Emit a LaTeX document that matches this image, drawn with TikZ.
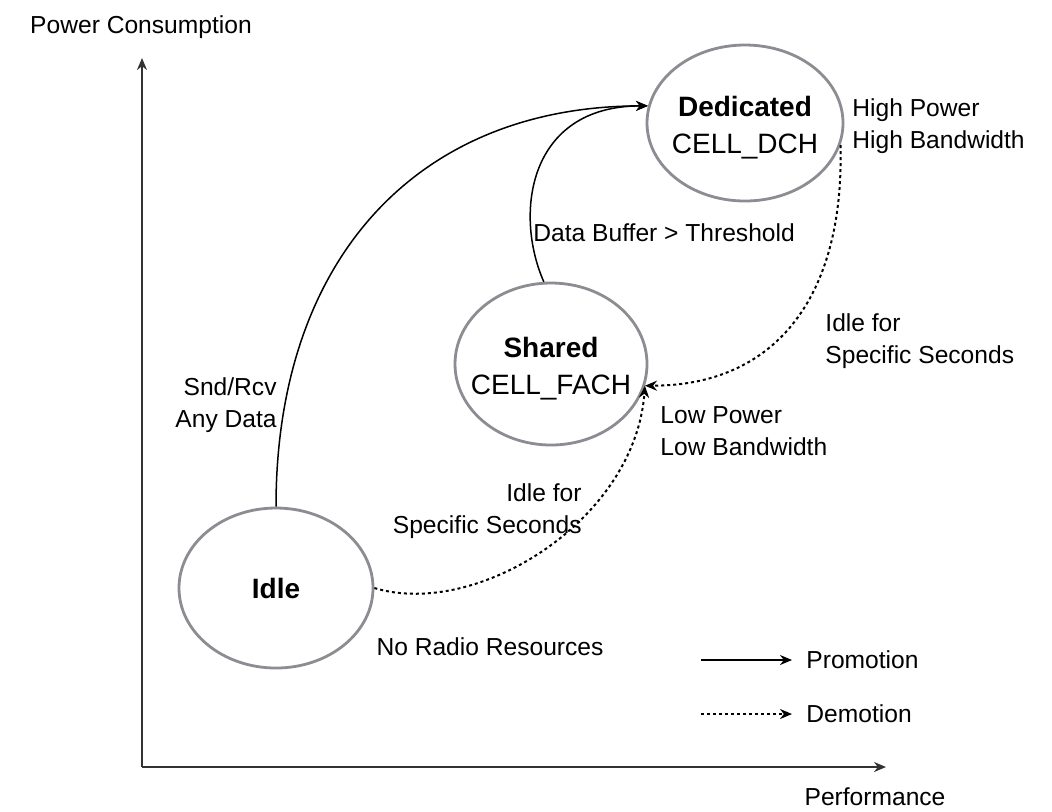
\documentclass[tikz,border=0pt]{standalone}
\usepackage{fontspec}
\setmainfont{Liberation Sans}
\usetikzlibrary{arrows.meta, positioning, shapes.geometric}
\newcommand{\stname}[2]{\makebox[0pt]{\bfseries #1}\\\makebox[0pt]{#2}}
\tikzset{
    >={Stealth[length=6pt,width=5pt]}, % small filled heads
    lbl/.style={inner sep=0pt, font=\fontsize{12.3}{16}\selectfont}, % plain text labels
    rrc/.style={ellipse, draw={rgb,255:red,140;green,140;blue,146}, line width=1.4pt, inner sep=0pt, align=center, font=\fontsize{14}{18.5}\selectfont}, % one RRC state
    twoline/.style={text height=33pt}, % pushes the two text lines a bit down
    promote/.style={->, line width=0.75pt}, % solid edge
    demote/.style={->, line width=1pt, dash pattern=on 1.5pt off 1.5pt}, % dotted edge
    axis/.style={->, line width=1pt, draw=black!80}, % the two axes
}

\begin{document}
\begin{tikzpicture}[x=0.5pt, y=-0.5pt]
    \useasboundingbox (0,0) rectangle (1052,811);

    % axes
    \coordinate (o) at (142,767);
    \coordinate (ytip) at (142,58);
    \coordinate (xtip) at (886,767);
    \draw[axis] (o) -- (ytip);
    \draw[axis] (o) -- (xtip);
    \node[lbl] (ylab) at (141,27) {Power Consumption};
    \node[lbl] (xlab) at (875,797) {Performance};

    % states
    \node[rrc, twoline, minimum width=98pt, minimum height=78pt] (ded) at (745,123) {\stname{Dedicated}{CELL\_DCH}};
    \node[rrc, twoline, minimum width=96pt, minimum height=81pt] (sha) at (551,364) {\stname{Shared}{CELL\_FACH}};
    \node[rrc, minimum width=97pt, minimum height=80pt] (idl) at (276,588) {\bfseries Idle};

    % transitions
    \draw[promote] (idl.north) .. controls +(0,-248) and +(-230,0) .. (ded.170);
    \draw[promote] (sha.95) .. controls +(-30,-68) and +(-120,0) .. (ded.170);
    \draw[demote] (ded.-13) .. controls +(4,155) and +(128,0) .. (sha.-13);
    \draw[demote] (idl.east) .. controls +(102,31) and +(-10,135) .. (sha.-13);

    % labels
    \node[lbl, anchor=west, align=left] (hi) at (852,126) {High Power\\High Bandwidth};
    \node[lbl, anchor=west] (thr) at (533,233) {Data Buffer > Threshold};
    \node[lbl, anchor=west, align=left] (dsec) at (825,341) {Idle for\\Specific Seconds};
    \node[lbl, anchor=west, align=left] (lo) at (660,431) {Low Power\\Low Bandwidth};
    \node[lbl, anchor=east, align=right] (isec) at (582,511) {Idle for\\Specific Seconds};
    \node[lbl, anchor=east, align=right] (snd) at (277,405) {Snd/Rcv\\Any Data};
    \node[lbl] (nrr) at (490,647) {No Radio Resources};

    % legend
    \coordinate (pa) at (701,660);
    \coordinate (pb) at (792,660);
    \coordinate (da) at (701,714);
    \coordinate (db) at (792,714);
    \draw[promote] (pa) -- (pb);
    \draw[demote] (da) -- (db);
    \node[lbl, right=7pt of pb] (prom) {Promotion};
    \node[lbl, right=7pt of db] (dem) {Demotion};
\end{tikzpicture}
\end{document}
